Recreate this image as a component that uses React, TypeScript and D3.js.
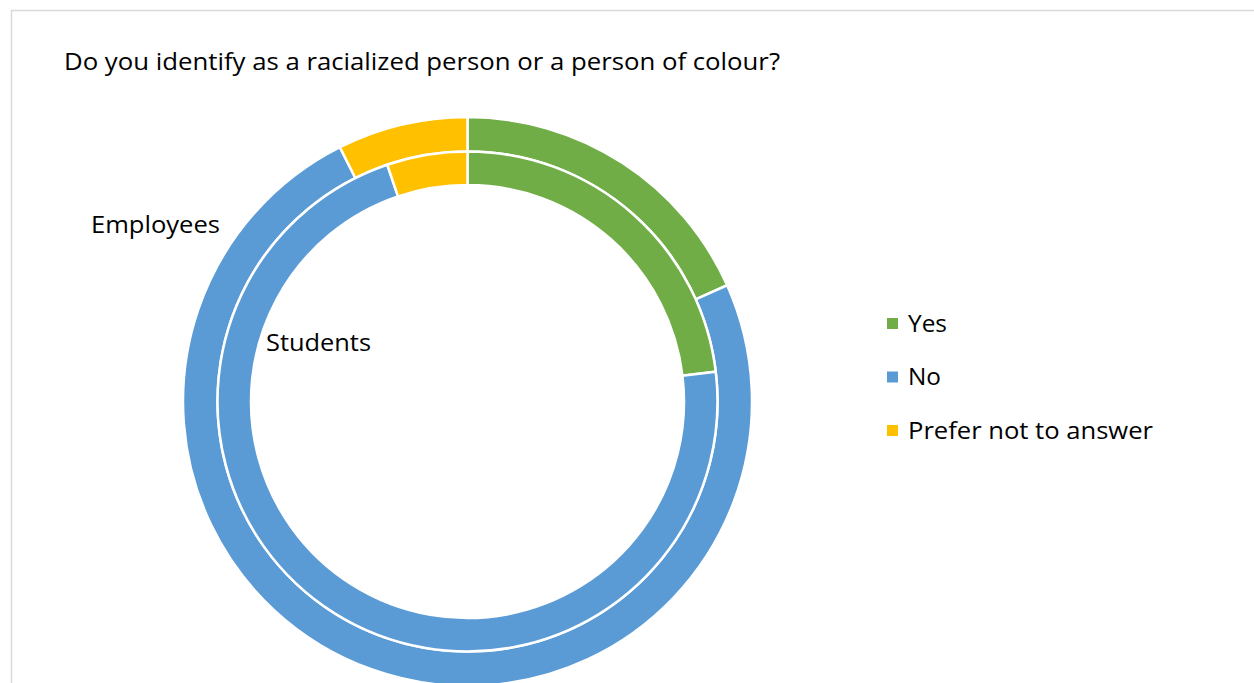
import React from "react";
import * as d3 from "d3";

const categories = ["Yes", "No", "Prefer not to answer"];
const employeesValues = [18.3, 74.3, 7.4];
const studentsValues = [23.1, 71.7, 5.2];
const ringLabels = ["Employees", "Students"];
const colors = ["#70AD47", "#5B9BD5", "#FFC000"];
const title = "Do you identify as a racialized person or a person of colour?";
const legendTextWidths = [39, 33, 245];

const W = 1254;
const H = 683;
const FONT = "'Open Sans', 'Noto Sans', sans-serif";

export default function App() {
  const cx = 467.5;
  const cy = 401.5;
  const rOuter = 284.5;
  const rMid = 250;
  const rInner = 216.5;

  const pie = d3
    .pie<number>()
    .sort(null)
    .value((d) => d)
    .startAngle(0)
    .endAngle(2 * Math.PI);

  const outerArc = d3.arc<d3.PieArcDatum<number>>().innerRadius(rMid).outerRadius(rOuter);
  const innerArc = d3.arc<d3.PieArcDatum<number>>().innerRadius(rInner).outerRadius(rMid);

  const outerData = pie(employeesValues);
  const innerData = pie(studentsValues);

  const color = d3.scaleOrdinal<string, string>().domain(categories).range(colors);

  const legendY = d3.scalePoint<string>().domain(categories).range([323.5, 430.5]);

  return (
    <svg
      width={W}
      height={H}
      style={{ position: "absolute", left: 0, top: 0, background: "#fff" }}
      fontFamily={FONT}
    >
      <rect x={11.5} y={10.5} width={1400} height={900} fill="#fff" stroke="#d9d9d9" strokeWidth={1.5} />
      <text x={64} y={69.5} fontSize={23.5} fill="#000" textLength={716} lengthAdjust="spacingAndGlyphs">
        {title}
      </text>
      <g transform={`translate(${cx},${cy})`}>
        {outerData.map((d, i) => (
          <path key={"o" + i} d={outerArc(d) || ""} fill={color(categories[i])} stroke="#fff" strokeWidth={2.5} />
        ))}
        {innerData.map((d, i) => (
          <path key={"i" + i} d={innerArc(d) || ""} fill={color(categories[i])} stroke="#fff" strokeWidth={2.5} />
        ))}
      </g>
      <text x={91} y={232.5} fontSize={23.5} fill="#000" textLength={129} lengthAdjust="spacingAndGlyphs">
        {ringLabels[0]}
      </text>
      <text x={266} y={351} fontSize={23.5} fill="#000" textLength={105} lengthAdjust="spacingAndGlyphs">
        {ringLabels[1]}
      </text>
      {categories.map((c, i) => (
        <g key={c}>
          <rect x={887} y={(legendY(c) || 0) - 5.5} width={11} height={11} fill={color(c)} />
          <text
            x={908}
            y={(legendY(c) || 0) + 8}
            fontSize={23.5}
            fill="#000"
            textLength={legendTextWidths[i]}
            lengthAdjust="spacingAndGlyphs"
          >
            {c}
          </text>
        </g>
      ))}
    </svg>
  );
}
